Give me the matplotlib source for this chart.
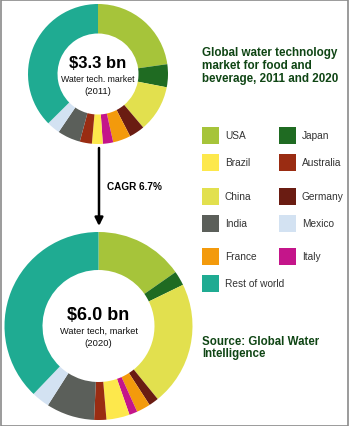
import matplotlib.pyplot as plt
from matplotlib.patches import Rectangle

plt.rcParams["font.family"] = ["Liberation Sans", "DejaVu Sans"]

W, H = 350, 427

# Daten (Anteile in %, aus dem Bild geschätzt)
countries = ["USA", "Japan", "China", "Germany", "France", "Italy",
             "Brazil", "Australia", "India", "Mexico", "Rest of world"]
share_2011 = [22.8, 5.3, 10.8, 3.6, 4.1, 2.4, 2.5, 2.8, 5.3, 3.1, 37.5]
share_2020 = [15.3, 2.5, 21.4, 1.7, 2.4, 1.4, 4.0, 2.1, 8.3, 3.1, 37.9]
colors = ["#a6c43a", "#1f6b22", "#e2e04e", "#6a1c12", "#f39a0c", "#c4158a",
          "#fde84c", "#9a2c12", "#5b5f5a", "#d3e2f2", "#1fab92"]
totals = ["$3.3 bn", "$6.0 bn"]
subtitles = ["Water tech. market", "Water tech, market"]
years = ["(2011)", "(2020)"]
legend_rows = [("USA", "Japan"), ("Brazil", "Australia"), ("China", "Germany"),
               ("India", "Mexico"), ("France", "Italy"), ("Rest of world", None)]

title = "Global water technology\nmarket for food and\nbeverage, 2011 and 2020"
source = "Source: Global Water\nIntelligence"
cagr = "CAGR 6.7%"

GREEN = "#0f4514"

fig = plt.figure(figsize=(W / 100, H / 100), dpi=100)
ax = fig.add_axes([0, 0, 1, 1])

# Donuts: Werte, Mitte, Radius, Ringbreite, Schriftgrößen, Textzeilen-y
donuts = [
    (share_2011, 98, 75, 70, 29.5, 12, 6.3, (64, 79, 91.5)),
    (share_2020, 98.5, 327, 94, 38, 13, 6.7, (316, 331, 344)),
]
for k, (vals, cx, cy, r, w, big, small, ty) in enumerate(donuts):
    ax.pie(vals, colors=colors, startangle=90, counterclock=False,
           center=(cx, H - cy), radius=r,
           wedgeprops=dict(width=w, linewidth=0))
    ax.text(cx, H - ty[0], totals[k], ha="center", va="center",
            fontsize=big, fontweight="bold", color="black")
    ax.text(cx, H - ty[1], subtitles[k], ha="center", va="center",
            fontsize=small, color="#111111")
    ax.text(cx, H - ty[2], years[k], ha="center", va="center",
            fontsize=6.8, color="#111111")

# Pfeil mit CAGR
ax.annotate("", xy=(99, H - 227), xytext=(99, H - 149),
            arrowprops=dict(arrowstyle="-|>", lw=1.8, color="black",
                            mutation_scale=12, shrinkA=0, shrinkB=0))
ax.text(107, H - 187, cagr, ha="left", va="center", fontsize=7.2,
        fontweight="bold", color="black")

# Titel und Quelle
ax.text(202, H - 47, title, ha="left", va="top", fontsize=8.4,
        fontweight="bold", color=GREEN, linespacing=1.12)
ax.text(202, H - 336, source, ha="left", va="top", fontsize=8.3,
        fontweight="bold", color=GREEN, linespacing=1.05)

# Legende
row_y = [136, 163, 197, 224, 257, 284]
col_x = [202, 279]
size = 17
for yc, pair in zip(row_y, legend_rows):
    for xc, name in zip(col_x, pair):
        if name is None:
            continue
        c = colors[countries.index(name)]
        ax.add_patch(Rectangle((xc, H - yc - size / 2), size, size,
                               facecolor=c, edgecolor="none"))
        ax.text(xc + size + 6, H - yc, name, ha="left", va="center",
                fontsize=7.3, color="#333333")

ax.set_xlim(0, W)
ax.set_ylim(0, H)
ax.set_aspect("equal")
ax.axis("off")

# Rahmen
fig.patches.append(Rectangle((0.5 / W, 0.5 / H), 1 - 3 / W, 1 - 1.5 / H,
                             transform=fig.transFigure, fill=False,
                             edgecolor="#8a8a8a", linewidth=1.2))

plt.savefig("out.png", dpi=100)
